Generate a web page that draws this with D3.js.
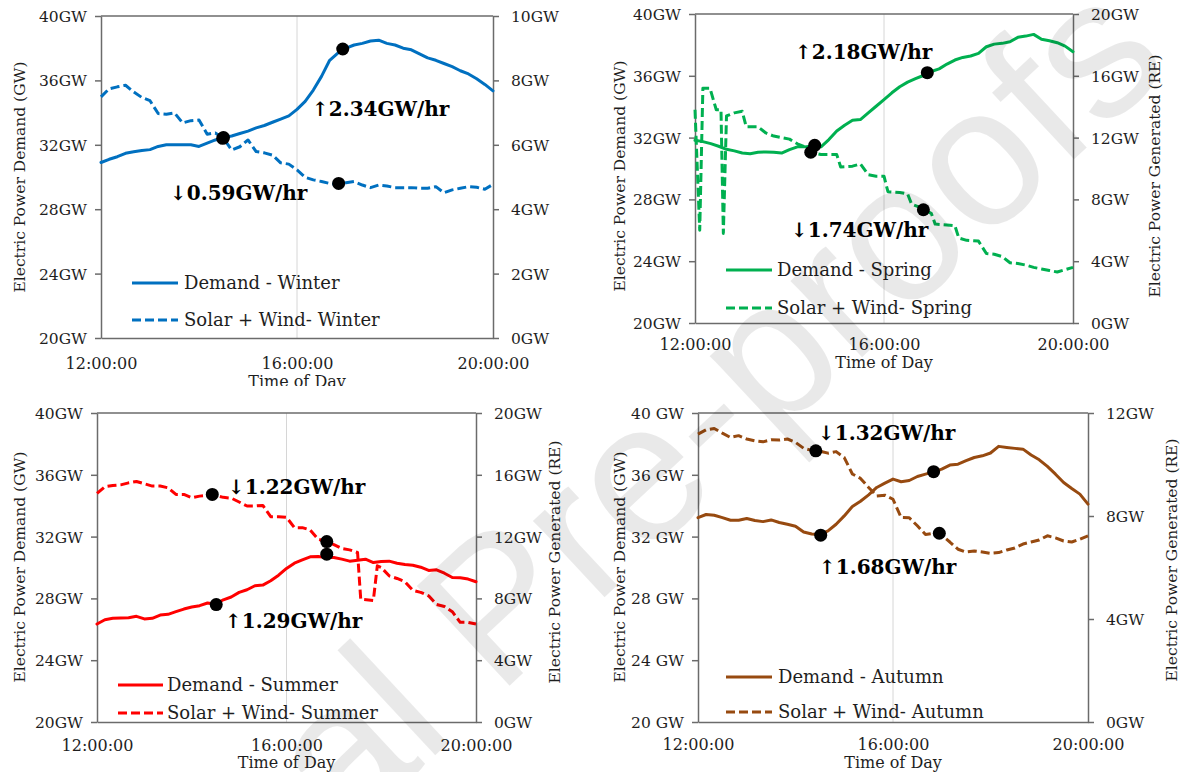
<!DOCTYPE html>
<html><head><meta charset="utf-8">
<script src="https://cdn.jsdelivr.net/npm/d3@7"></script>
<style>body{margin:0;background:#fff}svg{display:block}</style>
</head><body>
<svg id="chart" width="1186" height="772"></svg>
<script>
// ---- data (minutes after 12:00:00) ----
const TIMES = [0,10,20,30,40,50,60,70,80,90,100,110,120,130,140,150,160,170,180,190,200,210,220,230,240,250,260,270,280,290,300,310,320,330,340,350,360,370,380,390,400,410,420,430,440,450,460,470,480];
const X_TICK_MINUTES = [0,240,480];
const X_TICK_LABELS = ["12:00:00","16:00:00","20:00:00"];
const LEFT_TICKS = [20,24,28,32,36,40];

const winterDemand = [30.9,31.1,31.26,31.47,31.57,31.65,31.7,31.9,32.0,32.0,32.0,32.0,31.9,32.1,32.3,32.45,32.55,32.7,32.85,33.05,33.2,33.4,33.6,33.8,34.2,34.7,35.4,36.25,37.25,37.7,38.0,38.2,38.3,38.45,38.5,38.3,38.2,38.0,37.9,37.65,37.4,37.25,37.05,36.85,36.6,36.4,36.1,35.75,35.35];
const winterRE = [7.49,7.74,7.80,7.85,7.64,7.47,7.37,6.97,6.95,6.99,6.68,6.75,6.77,6.33,6.37,6.20,5.84,5.94,6.15,5.79,5.75,5.68,5.44,5.40,5.22,4.99,4.91,4.86,4.80,4.77,4.82,4.86,4.75,4.67,4.75,4.72,4.67,4.67,4.67,4.65,4.65,4.70,4.51,4.60,4.65,4.70,4.68,4.62,4.77];

const springDemand = [31.83,31.74,31.61,31.44,31.24,31.14,31.0,30.96,31.05,31.07,31.05,31.0,31.22,31.4,31.4,31.48,31.4,31.87,32.43,32.8,33.12,33.17,33.6,34.03,34.46,34.9,35.29,35.59,35.81,36.02,36.28,36.45,36.76,37.02,37.19,37.28,37.45,37.88,38.05,38.1,38.2,38.49,38.57,38.68,38.36,38.27,38.14,37.92,37.56];
const springRETimes = [0,6,10,19,27,33,36,40,50,60,65,80,90,100,120,130,140,150,160,170,180,185,200,210,220,230,240,245,260,270,275,285,290,300,305,320,330,335,345,360,370,380,390,400,410,420,430,440,450,460,470,480];
const springRE = [13.8,6.0,15.2,15.2,13.8,13.8,5.8,13.4,13.6,13.7,12.7,12.7,12.3,12.1,11.9,11.6,11.4,11.0,10.9,10.9,10.9,10.1,10.15,10.3,9.6,9.5,9.5,8.5,8.45,8.35,7.7,7.5,7.35,7.1,6.4,6.35,6.3,5.5,5.35,5.3,4.5,4.45,4.3,3.9,3.85,3.75,3.6,3.5,3.4,3.3,3.45,3.6];

const summerDemand = [26.34,26.62,26.71,26.73,26.75,26.84,26.67,26.71,26.92,26.97,27.14,27.31,27.44,27.53,27.7,27.63,27.91,28.09,28.39,28.56,28.82,28.86,29.14,29.5,29.94,30.28,30.49,30.69,30.71,30.65,30.65,30.54,30.41,30.47,30.54,30.32,30.39,30.41,30.28,30.19,30.15,30.02,29.81,29.85,29.63,29.35,29.33,29.25,29.08];
const summerRETimes = [0,10,20,30,40,50,60,70,80,90,100,110,120,130,140,150,160,170,180,190,200,210,220,230,240,250,260,270,280,290,300,310,320,330,334,350,355,360,370,380,390,400,410,420,430,440,450,460,470,480];
const summerRE = [14.8,15.23,15.31,15.35,15.48,15.57,15.42,15.27,15.27,15.16,14.73,14.73,14.52,14.62,14.67,14.67,14.54,14.49,14.24,13.98,13.98,14.02,13.29,13.29,13.25,12.58,12.58,12.43,11.83,11.7,11.48,11.23,11.14,10.97,7.95,7.87,10.11,10.0,9.46,9.29,9.08,8.52,8.39,8.17,7.61,7.48,7.14,6.45,6.45,6.34];

const autumnDemand = [33.23,33.43,33.38,33.23,33.06,33.06,33.17,33.04,32.97,33.08,32.91,32.8,32.67,32.3,32.17,32.13,32.37,32.8,33.34,33.95,34.29,34.7,35.18,35.46,35.72,35.55,35.63,35.89,36.04,36.19,36.37,36.63,36.69,36.91,37.12,37.23,37.41,37.84,37.77,37.71,37.66,37.28,36.97,36.54,36.04,35.5,35.11,34.75,34.1];
const autumnRE = [11.18,11.35,11.4,11.22,11.05,11.12,10.99,10.92,10.88,10.96,10.95,10.99,10.86,10.63,10.55,10.52,10.44,10.5,10.27,9.63,9.46,9.11,8.78,8.81,8.65,7.94,7.93,7.62,7.28,7.33,7.25,6.99,6.71,6.6,6.64,6.6,6.55,6.58,6.68,6.76,6.91,6.99,7.07,7.23,7.15,7.03,6.99,7.1,7.23];

// marked points: time, value, axis (L = demand axis, R = renewable axis)
const winterDotT = [150,149,296,291], winterDotV = [32.45,6.2,37.95,4.8], winterDotAxis = ["L","R","L","R"];
const springDotT = [152,147,295,290], springDotV = [31.5,11.05,36.2,7.33], springDotAxis = ["L","R","L","R"];
const summerDotT = [146,151,291,291], summerDotV = [14.73,27.6,11.68,30.86], summerDotAxis = ["R","L","R","L"];
const autumnDotT = [145,151,290,297], autumnDotV = [10.53,32.09,36.2,7.33], autumnDotAxis = ["R","L","L","R"];

const winterRightTicks = [0,2,4,6,8,10];
const springRightTicks = [0,4,8,12,16,20];
const summerRightTicks = [0,4,8,12,16,20];
const autumnRightTicks = [0,4,8,12];

const winterLegend = ["Demand - Winter","Solar + Wind- Winter"];
const springLegend = ["Demand - Spring","Solar + Wind- Spring"];
const summerLegend = ["Demand - Summer","Solar + Wind- Summer"];
const autumnLegend = ["Demand - Autumn","Solar + Wind- Autumn"];

const winterNotes = ["\u21912.34GW/hr","\u21930.59GW/hr"];
const springNotes = ["\u21912.18GW/hr","\u21931.74GW/hr"];
const summerNotes = ["\u21931.22GW/hr","\u21911.29GW/hr"];
const autumnNotes = ["\u21931.32GW/hr","\u21911.68GW/hr"];

const LEFT_TITLE = "Electric Power Demand (GW)";
const RIGHT_TITLE = "Electric Power Generated (RE)";
const X_TITLE = "Time of Day";
const WATERMARK = "Journal Pre-proofs";

// ---- layout ----
const FONT = "'DejaVu Serif', serif";
const AXIS_COLOR = "#6b6b6b";
const TEXT_COLOR = "#1e1e1e";

const panels = [
  {color:"#0070C0", box:[101,493,16,338], rMax:10, rTicks:winterRightTicks, leftFmt:v=>v+"GW",
   demandT:TIMES, demand:winterDemand, reT:TIMES, re:winterRE, legend:winterLegend,
   leg:{x1:132,x2:178,y1:283,y2:320,tx:184}, notes:winterNotes, notePos:[[312,109],[170,193]],
   dots:[winterDotT,winterDotV,winterDotAxis], leftTitle:[20,177], rightTitle:null,
   xLabY:363, xTitleY:381, clip:[0,0,568,386]},
  {color:"#00B050", box:[695,1073,14,323], rMax:20, rTicks:springRightTicks, leftFmt:v=>v+"GW",
   demandT:TIMES, demand:springDemand, reT:springRETimes, re:springRE, legend:springLegend,
   leg:{x1:726,x2:772,y1:270,y2:308,tx:777}, notes:springNotes, notePos:[[795,52],[791,230]],
   dots:[springDotT,springDotV,springDotAxis], leftTitle:[620,176], rightTitle:[1155,176],
   xLabY:344, xTitleY:362, clip:null},
  {color:"#FF0000", box:[97,476,413,722], rMax:20, rTicks:summerRightTicks, leftFmt:v=>v+"GW",
   demandT:TIMES, demand:summerDemand, reT:summerRETimes, re:summerRE, legend:summerLegend,
   leg:{x1:118,x2:163,y1:685,y2:713,tx:167}, notes:summerNotes, notePos:[[228,487],[225,621]],
   dots:[summerDotT,summerDotV,summerDotAxis], leftTitle:[20,567], rightTitle:[555,562],
   xLabY:745, xTitleY:762, clip:null},
  {color:"#974A10", box:[698,1088,413,722], rMax:12, rTicks:autumnRightTicks, leftFmt:v=>v+" GW",
   demandT:TIMES, demand:autumnDemand, reT:TIMES, re:autumnRE, legend:autumnLegend,
   leg:{x1:726,x2:772,y1:677,y2:712,tx:778}, notes:autumnNotes, notePos:[[818,433],[819,567]],
   dots:[autumnDotT,autumnDotV,autumnDotAxis], leftTitle:[620,567], rightTitle:[1172,560],
   xLabY:744, xTitleY:762, clip:null}
];

const svg = d3.select("#chart");
svg.append("rect").attr("width",1186).attr("height",772).attr("fill","#fff");
const defs = svg.append("defs");

panels.forEach((p,i)=>{
  let g = svg.append("g");
  if (p.clip) {
    defs.append("clipPath").attr("id","clip"+i).append("rect")
      .attr("x",p.clip[0]).attr("y",p.clip[1]).attr("width",p.clip[2]).attr("height",p.clip[3]);
    g.attr("clip-path","url(#clip"+i+")");
  }
  const [x0,x1,y0,y1] = p.box;
  const x = d3.scaleLinear().domain([0,480]).range([x0,x1]);
  const yL = d3.scaleLinear().domain([20,40]).range([y1,y0]);
  const yR = d3.scaleLinear().domain([0,p.rMax]).range([y1,y0]);

  // vertical grid at 16:00
  g.append("line").attr("x1",x(240)).attr("x2",x(240)).attr("y1",y0).attr("y2",y1)
    .attr("stroke","#d6d6d6").attr("stroke-width",1);

  // left axis
  const la = g.append("g").attr("transform",`translate(${x0},0)`)
    .call(d3.axisLeft(yL).tickValues(LEFT_TICKS).tickFormat(p.leftFmt).tickSizeInner(6).tickSizeOuter(0).tickPadding(8));
  // right axis
  const ra = g.append("g").attr("transform",`translate(${x1},0)`)
    .call(d3.axisRight(yR).tickValues(p.rTicks).tickFormat(v=>v+"GW").tickSizeInner(6).tickSizeOuter(0).tickPadding(12));
  // bottom axis
  const ba = g.append("g").attr("transform",`translate(0,${y1})`)
    .call(d3.axisBottom(x).tickValues(X_TICK_MINUTES).tickFormat((d,k)=>X_TICK_LABELS[k]).tickSize(0).tickPadding(0));
  // top line
  g.append("line").attr("x1",x0).attr("x2",x1).attr("y1",y0).attr("y2",y0)
    .attr("stroke",AXIS_COLOR).attr("stroke-width",1.5);

  [la,ra,ba].forEach(a=>{
    a.selectAll("path.domain").attr("stroke",AXIS_COLOR).attr("stroke-width",1.5);
    a.selectAll(".tick line").attr("stroke",AXIS_COLOR).attr("stroke-width",1.5);
    a.selectAll("text").attr("font-family",FONT).attr("font-size",15.5).attr("fill",TEXT_COLOR);
  });
  la.selectAll("text").attr("dy","0.35em");
  ra.selectAll("text").attr("dy","0.35em");
  ba.selectAll("text").attr("y",p.xLabY - y1).attr("dy","0.35em").attr("font-size",16);

  // x title
  g.append("text").attr("x",x(240)).attr("y",p.xTitleY).attr("dy","0.35em")
    .attr("text-anchor","middle").attr("font-family",FONT).attr("font-size",16).attr("fill",TEXT_COLOR)
    .text(X_TITLE);
  // y titles
  g.append("text").attr("transform",`translate(${p.leftTitle[0]},${p.leftTitle[1]}) rotate(-90)`)
    .attr("dy","0.35em").attr("text-anchor","middle").attr("font-family",FONT).attr("font-size",15.5)
    .attr("fill",TEXT_COLOR).text(LEFT_TITLE);
  if (p.rightTitle) {
    g.append("text").attr("transform",`translate(${p.rightTitle[0]},${p.rightTitle[1]}) rotate(-90)`)
      .attr("dy","0.35em").attr("text-anchor","middle").attr("font-family",FONT).attr("font-size",15.5)
      .attr("fill",TEXT_COLOR).text(RIGHT_TITLE);
  }

  // series
  const demandPts = p.demandT.map((t,k)=>[t,p.demand[k]]);
  const rePts = p.reT.map((t,k)=>[t,p.re[k]]);
  g.append("path").datum(rePts)
    .attr("d",d3.line().x(d=>x(d[0])).y(d=>yR(d[1])))
    .attr("fill","none").attr("stroke",p.color).attr("stroke-width",3)
    .attr("stroke-dasharray","9,4").attr("stroke-linejoin","round");
  g.append("path").datum(demandPts)
    .attr("d",d3.line().x(d=>x(d[0])).y(d=>yL(d[1])))
    .attr("fill","none").attr("stroke",p.color).attr("stroke-width",3)
    .attr("stroke-linejoin","round").attr("stroke-linecap","round");

  // legend
  const L = p.leg;
  g.append("line").attr("x1",L.x1).attr("x2",L.x2).attr("y1",L.y1).attr("y2",L.y1)
    .attr("stroke",p.color).attr("stroke-width",3);
  g.append("line").attr("x1",L.x1).attr("x2",L.x2).attr("y1",L.y2).attr("y2",L.y2)
    .attr("stroke",p.color).attr("stroke-width",3).attr("stroke-dasharray","9,4");
  [L.y1,L.y2].forEach((yy,k)=>{
    g.append("text").attr("x",L.tx).attr("y",yy).attr("dy","0.35em")
      .attr("font-family",FONT).attr("font-size",18).attr("fill",TEXT_COLOR).text(p.legend[k]);
  });

  // dots
  const [dT,dV,dA] = p.dots;
  g.selectAll("circle.mark").data(dT.map((t,k)=>({t,v:dV[k],a:dA[k]}))).enter()
    .append("circle").attr("class","mark")
    .attr("cx",d=>x(d.t)).attr("cy",d=>d.a==="L"?yL(d.v):yR(d.v)).attr("r",6.5).attr("fill","#000");

  // annotations
  p.notes.forEach((s,k)=>{
    g.append("text").attr("x",p.notePos[k][0]).attr("y",p.notePos[k][1]).attr("dy","0.35em")
      .attr("font-family",FONT).attr("font-weight","bold").attr("font-size",20).attr("fill","#000").text(s);
  });
});

// watermark
svg.append("text").attr("transform","translate(531,571) rotate(-43)")
  .attr("text-anchor","middle").attr("dy","0.35em")
  .attr("font-family","'Liberation Sans', Arial, sans-serif").attr("font-size",198)
  .attr("fill","#000").attr("fill-opacity",0.085).text(WATERMARK);
</script>
</body></html>
